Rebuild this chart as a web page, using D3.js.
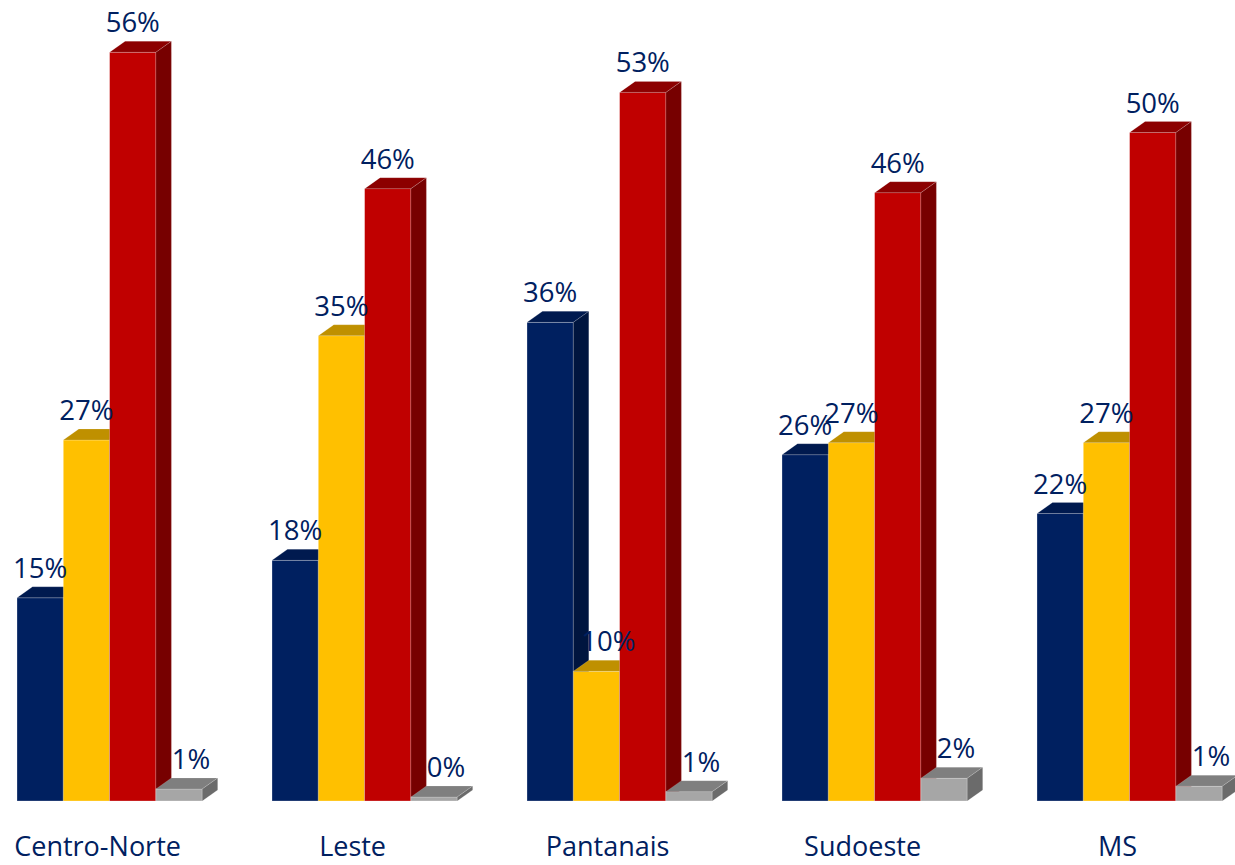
<!DOCTYPE html>
<html>
<head>
<meta charset="utf-8">
<script src="https://cdn.jsdelivr.net/npm/d3@7"></script>
<style>
  html, body { margin: 0; padding: 0; background: #ffffff; }
  svg { display: block; }
  text { font-family: "Open Sans", "Noto Sans", sans-serif; }
</style>
</head>
<body>
<svg id="chart" width="1235" height="865"></svg>
<script>
// Regions shown along the bottom
const categories = ["Centro-Norte", "Leste", "Pantanais", "Sudoeste", "MS"];

// Share per region for each of the four series (fractions of 1)
const navyValues   = [0.152, 0.180, 0.358, 0.259, 0.215];
const yellowValues = [0.270, 0.348, 0.097, 0.268, 0.268];
const redValues    = [0.560, 0.458, 0.530, 0.455, 0.500];
const grayValues   = [0.009, 0.003, 0.007, 0.017, 0.011];

const seriesValues = [navyValues, yellowValues, redValues, grayValues];

// Face colours: front, top, side
const palette = [
  { front: "#002060", top: "#001a4f", side: "#00153f" },
  { front: "#ffc000", top: "#bf9000", side: "#a67c00" },
  { front: "#c00000", top: "#8c0000", side: "#770000" },
  { front: "#a6a6a6", top: "#7f7f7f", side: "#6b6b6b" }
];

const baseY = 801;
const depthX = 15.5, depthY = 11;

const svg = d3.select("#chart");

const x = d3.scaleBand()
  .domain(categories)
  .range([17, 1222.2])
  .paddingInner(0.2737)
  .paddingOuter(0);

const xInner = d3.scaleBand()
  .domain(d3.range(seriesValues.length))
  .range([0, x.bandwidth()])
  .padding(0);

const y = d3.scaleLinear()
  .domain([0, 0.6])
  .range([baseY, baseY - 0.6 * 1337]);

const fmt = d3.format(".0%");

// one record per bar, in drawing order (group by group, series left to right)
const bars = [];
categories.forEach((c, ci) => {
  seriesValues.forEach((vals, si) => {
    bars.push({ cat: c, si, value: vals[ci] });
  });
});

const barLayer = svg.append("g");

bars.forEach(d => {
  const x0 = x(d.cat) + xInner(d.si);
  const x1 = x0 + xInner.bandwidth();
  const yt = y(d.value);
  const col = palette[d.si];
  const g = barLayer.append("g");

  // front face
  g.append("rect")
    .attr("x", x0).attr("y", yt)
    .attr("width", x1 - x0).attr("height", baseY - yt)
    .attr("fill", col.front)
    .attr("stroke", "rgba(255,255,255,0.35)")
    .attr("stroke-width", 0.8);

  // top face
  g.append("path")
    .attr("d", `M${x0},${yt}L${x0 + depthX},${yt - depthY}L${x1 + depthX},${yt - depthY}L${x1},${yt}Z`)
    .attr("fill", col.top)
    .attr("stroke", "rgba(255,255,255,0.25)")
    .attr("stroke-width", 0.6);

  // side face
  g.append("path")
    .attr("d", `M${x1},${yt}L${x1 + depthX},${yt - depthY}L${x1 + depthX},${baseY - depthY}L${x1},${baseY}Z`)
    .attr("fill", col.side)
    .attr("stroke", "rgba(255,255,255,0.25)")
    .attr("stroke-width", 0.6);
});

// value labels above each bar
svg.append("g")
  .selectAll("text")
  .data(bars)
  .join("text")
  .attr("x", d => x(d.cat) + xInner(d.si) + xInner.bandwidth() / 2 + (d.value < 0.12 ? 12 : 0))
  .attr("y", d => y(d.value) - depthY - 9)
  .attr("text-anchor", "middle")
  .attr("font-size", 27.5)
  .attr("fill", "#002060")
  .text(d => fmt(d.value));

// category labels
svg.append("g")
  .selectAll("text")
  .data(categories)
  .join("text")
  .attr("x", d => x(d) + x.bandwidth() / 2 - 12)
  .attr("y", 856)
  .attr("text-anchor", "middle")
  .attr("font-size", 27)
  .attr("fill", "#002060")
  .text(d => d);
</script>
</body>
</html>
